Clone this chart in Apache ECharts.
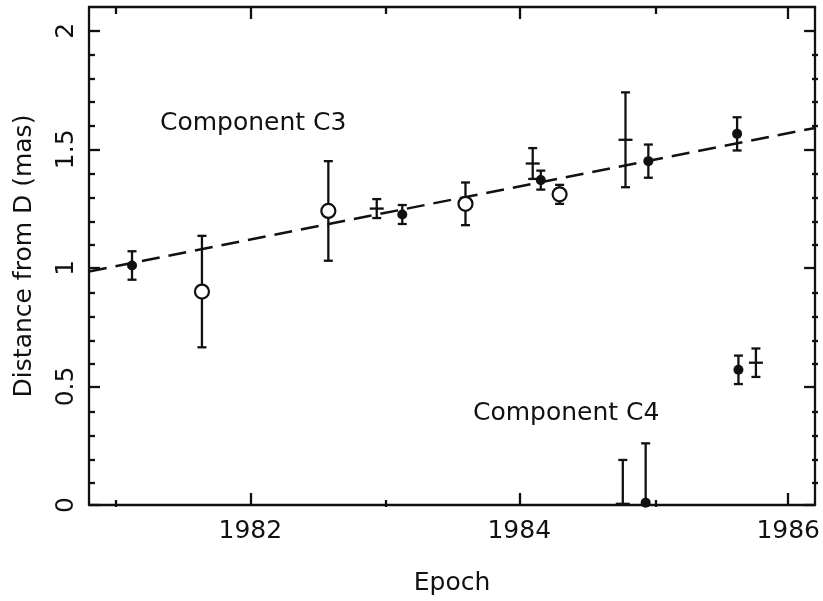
<!DOCTYPE html>
<html>
<head>
<meta charset="utf-8">
<title>Distance from D vs Epoch</title>
<script src="https://cdn.jsdelivr.net/npm/echarts@6/dist/echarts.min.js"></script>
<style>
  html, body { margin: 0; padding: 0; background: #fff; }
  #chart { width: 823px; height: 601px; }
</style>
</head>
<body>
<div id="chart"></div>
<script>
// Component C3: filled dots, open circles and crosses with error bars
const c3DotEpoch   = [1981.12, 1983.13, 1984.16, 1984.96, 1985.62];
const c3DotDist    = [1.01, 1.225, 1.37, 1.45, 1.565];
const c3DotErr     = [0.06, 0.04, 0.04, 0.07, 0.07];

const c3CircEpoch  = [1981.64, 1982.58, 1983.60, 1984.30];
const c3CircDist   = [0.90, 1.24, 1.27, 1.31];
const c3CircErr    = [0.235, 0.21, 0.09, 0.04];

const c3CrossEpoch = [1982.94, 1984.10, 1984.79];
const c3CrossDist  = [1.25, 1.44, 1.54];
const c3CrossErr   = [0.04, 0.065, 0.20];

// Component C4
const c4DotEpoch   = [1984.94, 1985.63];
const c4DotDist    = [0.01, 0.57];
const c4DotErr     = [0.25, 0.06];

const c4CrossEpoch = [1984.77, 1985.76];
const c4CrossDist  = [0.005, 0.60];
const c4CrossErr   = [0.185, 0.06];

// Linear fit to component C3 (end points at the axis limits)
const fitEpoch = [1980.8, 1986.2];
const fitDist  = [0.985, 1.59];

// Axis ranges and tick positions
const xRange = [1980.8, 1986.2];
const yRange = [0, 2.1];
const xMajor = [1982, 1984, 1986];
const xMinor = [1981, 1983, 1985];
const yMajor = [0, 0.5, 1, 1.5, 2];
const yMinor = [0.1, 0.2, 0.3, 0.4, 0.6, 0.7, 0.8, 0.9, 1.1, 1.2, 1.3, 1.4, 1.6, 1.7, 1.8, 1.9];

const INK = '#111';
const FONT = 'DejaVu Sans';
const FS = 25;
const LW = 2.3;

function rows(ep, d, e, kind) {
  return ep.map((t, i) => [t, d[i], e[i], kind]);
}

const barRows = [].concat(
  rows(c3DotEpoch, c3DotDist, c3DotErr, 0),
  rows(c3CircEpoch, c3CircDist, c3CircErr, 0),
  rows(c3CrossEpoch, c3CrossDist, c3CrossErr, 1),
  rows(c4DotEpoch, c4DotDist, c4DotErr, 0),
  rows(c4CrossEpoch, c4CrossDist, c4CrossErr, 1)
);

// Vertical error bar with end caps; crosses also get a short horizontal stroke at the value
function errorBar(params, api) {
  const x = api.value(0), y = api.value(1), e = api.value(2), kind = api.value(3);
  const top = api.coord([x, y + e]);
  const bot = api.coord([x, y - e]);
  const mid = api.coord([x, y]);
  const cap = 4.5, arm = 7;
  const style = { stroke: INK, lineWidth: LW, fill: null };
  const kids = [
    { type: 'line', shape: { x1: top[0], y1: top[1], x2: bot[0], y2: bot[1] }, style },
    { type: 'line', shape: { x1: top[0] - cap, y1: top[1], x2: top[0] + cap, y2: top[1] }, style },
    { type: 'line', shape: { x1: bot[0] - cap, y1: bot[1], x2: bot[0] + cap, y2: bot[1] }, style }
  ];
  if (kind === 1) {
    kids.push({ type: 'line', shape: { x1: mid[0] - arm, y1: mid[1], x2: mid[0] + arm, y2: mid[1] }, style });
  }
  return { type: 'group', children: kids };
}

const grid = { left: 89, right: 5, top: 7, bottom: 94 };

function xAxis(gridIndex, position, ticks, len, showLine, labels, name) {
  return {
    type: 'value', gridIndex, position, min: xRange[0], max: xRange[1],
    axisLine: { show: showLine, onZero: false, lineStyle: { color: INK, width: LW } },
    axisTick: { show: true, inside: true, length: len, customValues: ticks, lineStyle: { color: INK, width: LW } },
    axisLabel: labels ? {
      show: true, customValues: labels, color: INK, fontFamily: FONT, fontSize: FS, margin: 14,
      formatter: (v) => String(Math.round(v))
    } : { show: false },
    splitLine: { show: false },
    name: name || '', nameLocation: 'middle', nameGap: 66,
    nameTextStyle: { color: INK, fontFamily: FONT, fontSize: FS }
  };
}

function yAxis(gridIndex, position, ticks, len, showLine, labels, name) {
  return {
    type: 'value', gridIndex, position, min: yRange[0], max: yRange[1],
    axisLine: { show: showLine, onZero: false, lineStyle: { color: INK, width: LW } },
    axisTick: { show: true, inside: true, length: len, customValues: ticks, lineStyle: { color: INK, width: LW } },
    axisLabel: labels ? { show: true, customValues: labels, rotate: 90, color: INK, fontFamily: FONT, fontSize: FS, margin: 10 } : { show: false },
    splitLine: { show: false },
    name: name || '', nameLocation: 'middle', nameGap: 52,
    nameTextStyle: { color: INK, fontFamily: FONT, fontSize: FS }
  };
}

const chart = echarts.init(document.getElementById('chart'), null, { renderer: 'canvas' });

chart.setOption({
  backgroundColor: '#fff',
  animation: false,
  grid: [Object.assign({}, grid), Object.assign({}, grid)],
  xAxis: [
    xAxis(0, 'bottom', xMajor, 12, true, xMajor, 'Epoch'),
    xAxis(0, 'top', xMajor, 12, true, null),
    xAxis(1, 'bottom', xMinor, 7, false, null),
    xAxis(1, 'top', xMinor, 7, false, null)
  ],
  yAxis: [
    yAxis(0, 'left', yMajor, 11, true, yMajor, 'Distance from D (mas)'),
    yAxis(0, 'right', yMajor, 11, true, null),
    yAxis(1, 'left', yMinor, 6, false, null),
    yAxis(1, 'right', yMinor, 6, false, null)
  ],
  series: [
    {
      name: 'fit', type: 'line', xAxisIndex: 0, yAxisIndex: 0,
      data: fitEpoch.map((t, i) => [t, fitDist[i]]),
      showSymbol: false, symbol: 'none', z: 1,
      lineStyle: { color: INK, width: 2.5, type: [18, 9] }
    },
    {
      name: 'errors', type: 'custom', xAxisIndex: 0, yAxisIndex: 0,
      data: barRows, renderItem: errorBar, clip: true, z: 2
    },
    {
      name: 'filled', type: 'scatter', xAxisIndex: 0, yAxisIndex: 0, z: 3,
      data: [].concat(
        c3DotEpoch.map((t, i) => [t, c3DotDist[i]]),
        c4DotEpoch.map((t, i) => [t, c4DotDist[i]])
      ),
      symbol: 'circle', symbolSize: 10,
      itemStyle: { color: INK, opacity: 1 }
    },
    {
      name: 'open', type: 'scatter', xAxisIndex: 0, yAxisIndex: 0, z: 3,
      data: c3CircEpoch.map((t, i) => [t, c3CircDist[i]]),
      symbol: 'circle', symbolSize: 14,
      itemStyle: { color: '#fff', borderColor: INK, borderWidth: 2.2, opacity: 1 }
    }
  ],
  graphic: [
    { type: 'text', left: 160, top: 111, style: { text: 'Component C3', fill: INK, font: FS + 'px "DejaVu Sans"' } },
    { type: 'text', left: 473, top: 401, style: { text: 'Component C4', fill: INK, font: FS + 'px "DejaVu Sans"' } }
  ]
});
</script>
</body>
</html>
